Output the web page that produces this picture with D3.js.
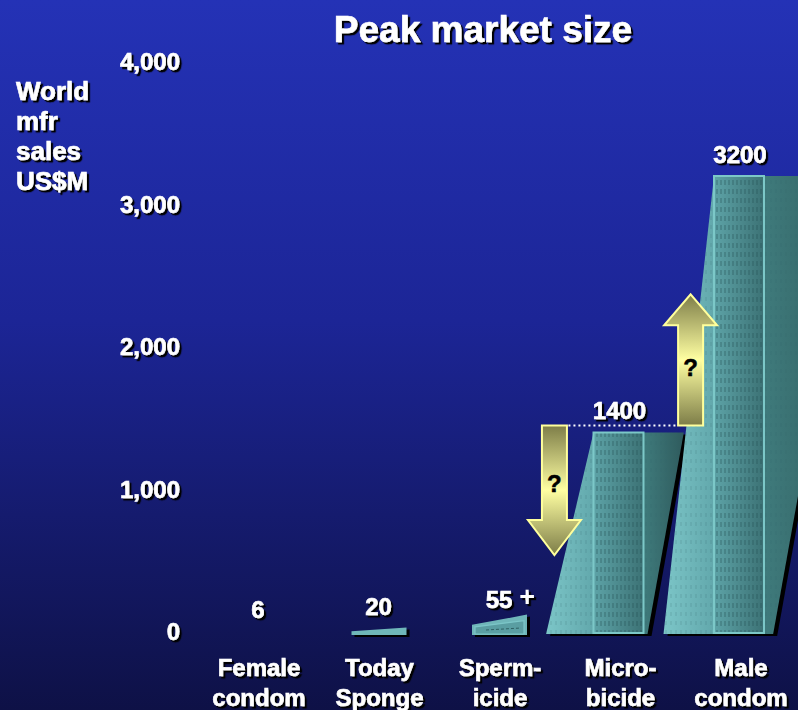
<!DOCTYPE html>
<html>
<head>
<meta charset="utf-8">
<script src="https://cdn.jsdelivr.net/npm/d3@7"></script>
<style>
  html, body { margin: 0; padding: 0; background: #151a70; }
  svg { display: block; }
  text { font-family: "Liberation Sans", Arial, sans-serif; font-weight: bold; }
  .heavy { stroke: #fff; stroke-width: 0.6; paint-order: stroke; }
</style>
</head>
<body>
<svg id="chart" width="798" height="710"></svg>
<script>
// Peak world manufacturer sales by product, US$ millions
const categories = ["Female condom", "Today Sponge", "Sperm-icide", "Micro-bicide", "Male condom"];
const categoryLines = [["Female", "condom"], ["Today", "Sponge"], ["Sperm-", "icide"], ["Micro-", "bicide"], ["Male", "condom"]];
const values = [6, 20, 55, 1400, 3200];
const valueSuffix = ["", "", "+", "", ""];
const yTicks = [0, 1000, 2000, 3000, 4000];
const axisTitle = ["World", "mfr", "sales", "US$M"];
const title = "Peak market size";

// Uncertainty arrows around the microbicide estimate (values in US$M)
const arrowLevel = 1450;
const downArrowTip = 540;
const upArrowTip = 2370;

const W = 798, H = 710;
const svg = d3.select("#chart");
const defs = svg.append("defs");

// Background gradient
const bg = defs.append("linearGradient").attr("id", "bg").attr("x1", 0).attr("y1", 0).attr("x2", 0).attr("y2", 1);
bg.append("stop").attr("offset", "0%").attr("stop-color", "#2432b6");
bg.append("stop").attr("offset", "45%").attr("stop-color", "#1c2596");
bg.append("stop").attr("offset", "100%").attr("stop-color", "#0e1146");
svg.append("rect").attr("width", W).attr("height", H).attr("fill", "url(#bg)");

// Text drop shadow
const sh = defs.append("filter").attr("id", "tshadow").attr("x", "-10%").attr("y", "-10%").attr("width", "130%").attr("height", "140%");
sh.append("feDropShadow").attr("dx", 2.2).attr("dy", 2.2).attr("stdDeviation", 0.4).attr("flood-color", "#000").attr("flood-opacity", 1);

// Face gradients
function hGrad(id, c0, c1) {
  const g = defs.append("linearGradient").attr("id", id).attr("x1", 0).attr("y1", 0).attr("x2", 1).attr("y2", 0);
  g.append("stop").attr("offset", "0%").attr("stop-color", c0);
  g.append("stop").attr("offset", "100%").attr("stop-color", c1);
}
hGrad("leftFace", "#7cc6c8", "#62a8ac");
hGrad("frontFace", "#5da3a7", "#3c7275");
hGrad("rightFace", "#3f7b7c", "#2f5b5d");

// Fine vertical dash texture
const pat = defs.append("pattern").attr("id", "dash").attr("width", 4).attr("height", 9).attr("patternUnits", "userSpaceOnUse");
pat.append("line").attr("x1", 1).attr("x2", 1).attr("y1", 0).attr("y2", 5)
  .attr("stroke", "#1f4a4e").attr("stroke-width", 1).attr("stroke-opacity", 0.55);
const pat2 = defs.append("pattern").attr("id", "dashFaint").attr("width", 5).attr("height", 9).attr("patternUnits", "userSpaceOnUse");
pat2.append("line").attr("x1", 1).attr("x2", 1).attr("y1", 0).attr("y2", 4)
  .attr("stroke", "#2d6064").attr("stroke-width", 1).attr("stroke-opacity", 0.25);

// Arrow gradient
const ag = defs.append("linearGradient").attr("id", "arrowGrad").attr("x1", 0).attr("y1", 0).attr("x2", 0).attr("y2", 1);
ag.append("stop").attr("offset", "0%").attr("stop-color", "#7d7d48");
ag.append("stop").attr("offset", "50%").attr("stop-color", "#ffffa2");
ag.append("stop").attr("offset", "100%").attr("stop-color", "#7d7d48");

// Scales
const x = d3.scalePoint().domain(categories).range([258, 740]);
const y = d3.scaleLinear().domain([0, 4000]).range([632, 62]);

// Title
svg.append("text").attr("class", "heavy").attr("x", 483).attr("y", 42).attr("text-anchor", "middle")
  .attr("font-size", 37).attr("fill", "#fff").attr("filter", "url(#tshadow)").text(title);

// Axis title
svg.append("g").attr("filter", "url(#tshadow)").selectAll("text").data(axisTitle).join("text")
  .attr("class", "heavy").attr("x", 16).attr("y", (d, i) => 100 + i * 30)
  .attr("font-size", 26).attr("fill", "#fff").text(d => d);

// Y axis (labels only)
const yAxis = svg.append("g").attr("transform", "translate(180,0)")
  .call(d3.axisLeft(y).tickValues(yTicks).tickFormat(d3.format(",")).tickSize(0).tickPadding(0));
yAxis.select(".domain").remove();
yAxis.selectAll("text").attr("class", "heavy").attr("font-size", 24).attr("fill", "#fff")
  .attr("font-family", "Liberation Sans, Arial, sans-serif").attr("font-weight", "bold")
  .attr("filter", "url(#tshadow)");

// Bars
const base = y(0) + 2;
const barLayer = svg.append("g");
const line = d3.line();

values.forEach((v, i) => {
  const c = x(categories[i]);
  const g = barLayer.append("g");
  const h = y(0) - y(v);
  if (h > 30) {
    // Prism: left face, front face, right face
    const top = y(v);
    const hh = base - top;
    const fl = c - 26, fr = c + 24;
    const leftFoot = fl - (45 + 0.012 * hh);
    const rightTop = fr + 0.2 * hh;
    const rightBottom = fr + 0.02 * hh;
    const silhouette = [[leftFoot, base], [fl, top], [rightTop, top], [rightBottom, base]];
    g.append("path").attr("d", line(silhouette) + "Z").attr("fill", "#000").attr("transform", "translate(4,2)");
    g.append("path").attr("d", line([[leftFoot, base], [fl, top], [fl, base]]) + "Z").attr("fill", "url(#leftFace)");
    g.append("path").attr("d", line([[leftFoot, base], [fl, top], [fl, base]]) + "Z").attr("fill", "url(#dashFaint)");
    g.append("path").attr("d", line([[fr, top], [rightTop, top], [rightBottom, base], [fr, base]]) + "Z").attr("fill", "url(#rightFace)");
    g.append("path").attr("d", line([[fr, top], [rightTop, top], [rightBottom, base], [fr, base]]) + "Z").attr("fill", "url(#dashFaint)");
    g.append("rect").attr("x", fl).attr("y", top).attr("width", fr - fl).attr("height", base - 1 - top).attr("fill", "url(#frontFace)");
    g.append("rect").attr("x", fl).attr("y", top).attr("width", fr - fl).attr("height", base - 1 - top)
      .attr("fill", "url(#dash)").attr("stroke", "#7cc8c8").attr("stroke-width", 2);
    drawValue(i, c, top - 22);
  } else {
    // Low-profile wedge for very small values
    const bb = base + 1;
    const rh = 2.6 * h, lh = 1.3 * h;
    const xl = c - 27, xr = c + 28;
    const wedge = [[xl, bb], [xl, bb - lh], [xr, bb - rh], [xr, bb]];
    if (h > 1) {
      g.append("path").attr("d", line(wedge) + "Z").attr("fill", "#000").attr("transform", "translate(3,2)");
      g.append("path").attr("d", line(wedge) + "Z").attr("fill", "#6fb6b9");
      if (rh > 12) {
        const inner = [[xl + 3, bb - 1], [xl + 3, bb - lh + 2], [xr - 3, bb - rh + 6], [xr - 3, bb - 1]];
        g.append("path").attr("d", line(inner) + "Z").attr("fill", "#5a9ea2").attr("stroke", "#7cc6c8").attr("stroke-width", 1.2);
        g.append("path").attr("d", line([[xl + 14, bb - 5], [xr - 6, bb - 7]])).attr("stroke", "#2f6164")
          .attr("stroke-width", 1).attr("stroke-dasharray", "3,2");
      }
    }
    drawValue(i, c, base - 23 - 0.55 * rh);
  }
});

function drawValue(i, c, cy) {
  const g = svg.append("g").attr("filter", "url(#tshadow)");
  const t = g.append("text").attr("class", "heavy").attr("x", c).attr("y", cy + 8.5).attr("text-anchor", "middle")
    .attr("font-size", 24).attr("fill", "#fff").text(String(values[i]));
  if (valueSuffix[i]) {
    const w = t.node().getComputedTextLength();
    g.append("text").attr("x", c + w / 2 + 7).attr("y", cy + 6).attr("font-size", 27)
      .attr("font-weight", "normal").attr("fill", "#fff").text(valueSuffix[i]);
  }
}

// Category labels
const catG = svg.append("g").attr("filter", "url(#tshadow)");
categories.forEach((cat, i) => {
  catG.append("text").attr("class", "heavy").attr("x", x(cat) + 1).attr("y", 676).attr("text-anchor", "middle")
    .attr("font-size", 24).attr("fill", "#fff")
    .selectAll("tspan").data(categoryLines[i]).join("tspan")
    .attr("x", x(cat) + 1).attr("dy", (d, j) => j === 0 ? 0 : 30).text(d => d);
});

// Uncertainty arrows
const step = x.step();
const downX = x(categories[2]) + 0.46 * step;
const upX = x(categories[3]) + 0.59 * step;
const levelY = y(arrowLevel);

function arrowPath(cx, fromY, tipY) {
  const dir = tipY > fromY ? 1 : -1;
  const sw = 12.5, hw = 26.5, hl = dir > 0 ? 35 : 31;
  const neck = tipY - dir * hl;
  return line([[cx - sw, fromY], [cx + sw, fromY], [cx + sw, neck], [cx + hw, neck], [cx, tipY],
    [cx - hw, neck], [cx - sw, neck]]) + "Z";
}

// Dotted level line between arrows
svg.append("line").attr("x1", downX + 14).attr("x2", upX - 13).attr("y1", levelY).attr("y2", levelY)
  .attr("stroke", "#fff").attr("stroke-width", 2).attr("stroke-dasharray", "2,3");

[[downX, y(downArrowTip)], [upX, y(upArrowTip)]].forEach(([cx, tipY]) => {
  svg.append("path").attr("d", arrowPath(cx, levelY, tipY))
    .attr("fill", "url(#arrowGrad)").attr("stroke", "#ffff9c").attr("stroke-width", 2).attr("stroke-linejoin", "miter");
  const mid = tipY > levelY ? (levelY + tipY - 35) / 2 + 10 : (levelY + tipY + 31) / 2 - 8;
  svg.append("text").attr("x", cx).attr("y", mid + 9).attr("text-anchor", "middle")
    .attr("font-size", 24).attr("fill", "#000").attr("stroke", "#000").attr("stroke-width", 0.5).text("?");
});
</script>
</body>
</html>
